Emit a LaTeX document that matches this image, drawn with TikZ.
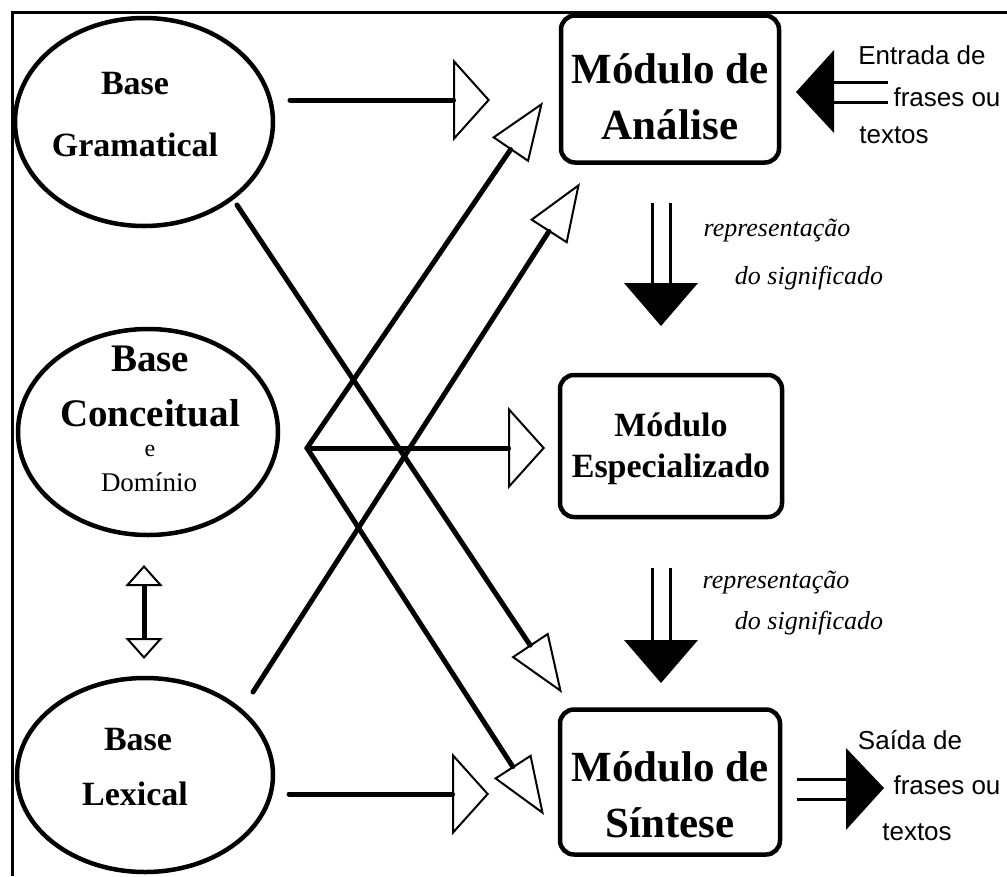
\documentclass[tikz,border=0pt]{standalone}
\usepackage{fontspec}
\setmainfont{Liberation Serif}
\newfontfamily\sansf{Liberation Sans}
\usetikzlibrary{arrows.meta, shapes.geometric}
\tikzset{
  basenode/.style={ellipse, draw, line width=4.5pt, inner sep=0pt},
  basetext/.style={font=\bfseries\fontsize{34}{40}\selectfont},
  modbox/.style={draw, rounded corners=14pt, line width=4.5pt},
  modtext/.style={align=center, font=\bfseries\fontsize{43}{56}\selectfont},
  hline/.style={line width=5pt, line cap=round, -{Triangle[open, length=37pt, width=82pt, line width=2pt]}},
  dline/.style={line width=5pt, line cap=round, -{Triangle[open, length=58pt, width=44pt, line width=2pt]}},
  thinline/.style={line width=3pt},
  iotext/.style={font=\sansf\fontsize{26}{30}\selectfont},
  reptext/.style={font=\itshape\fontsize{26}{30}\selectfont}
}

\begin{document}
\begin{tikzpicture}[x=1pt,y=-1pt]
\useasboundingbox (0,0) rectangle (1007,876);
% frame (top and left only)
\draw[line width=3pt] (1007,12) -- (12,12) -- (12,876);

% the three bases
\node[basenode, minimum width=258, minimum height=208] (gram) at (144,122) {};
\node[basenode, minimum width=260, minimum height=206] (conc) at (148,432) {};
\node[basenode, minimum width=256, minimum height=194] (lexi) at (145,775) {};
\node[basetext] (gramA) at (135,84) {Base};
\node[basetext] (gramB) at (135,145) {Gramatical};
\node[basetext, font=\bfseries\fontsize{39}{45}\selectfont] (concA) at (150,359) {Base};
\node[basetext, font=\bfseries\fontsize{39}{45}\selectfont, inner sep=1pt] (concB) at (150,413) {Conceitual};
\node[font=\fontsize{24}{28}\selectfont, inner sep=0pt] (concC) at (150,451) {e};
\node[font=\fontsize{27}{31}\selectfont, inner sep=1pt] (concD) at (149,482) {Domínio};
\node[basetext] (lexiA) at (138,740) {Base};
\node[basetext] (lexiB) at (135,794) {Lexical};

% the three modules
\node[modbox, minimum width=218, minimum height=147] (anal) at (670,89) {};
\node[modbox, minimum width=222, minimum height=142] (espe) at (671,446) {};
\node[modbox, minimum width=220, minimum height=145] (sint) at (670,782) {};
\node[modtext] (analT) at (670,97) {Módulo de\\Análise};
\node[modtext, font=\bfseries\fontsize{34}{41}\selectfont] (espeT) at (671,449) {Módulo\\Especializado};
\node[modtext] (sintT) at (670,795) {Módulo de\\Síntese};

% connector ends
\coordinate (G0) at (290,100);
\coordinate (G1) at (490,100);
\coordinate (G2) at (237,205);
\coordinate (G3) at (562,693);
\coordinate (H) at (307,448);
\coordinate (H1) at (545,448);
\coordinate (H2) at (543,102);
\coordinate (H3) at (544,815);
\coordinate (L0) at (289,794);
\coordinate (L1) at (489,794);
\coordinate (L2) at (253,692);
\coordinate (L3) at (580,183);
\coordinate (V0) at (144,565);
\coordinate (V1) at (144,659);

\draw[hline] (G0) -- (G1);
\draw[hline] (H) -- (H1);
\draw[hline] (L0) -- (L1);
\draw[dline] (G2) -- (G3);
\draw[dline] (H) -- (H2);
\draw[dline] (H) -- (H3);
\draw[dline] (L2) -- (L3);
\draw[line width=5pt, {Triangle[open, length=21pt, width=37pt, line width=2pt]}-{Triangle[open, length=21pt, width=37pt, line width=2pt]}] (V0) -- (V1);

% input and output
\draw[thinline] (833,82) -- (888,82);
\draw[thinline] (833,102) -- (888,102);
\fill (796,92) -- (834,50) -- (834,133) -- cycle;
\node[iotext] (inA) at (922,55) {Entrada de};
\node[iotext] (inB) at (947,97) {frases ou};
\node[iotext] (inC) at (894,135) {textos};

\draw[thinline] (797,779) -- (847,779);
\draw[thinline] (797,799) -- (847,799);
\fill (884,788) -- (846,748) -- (846,830) -- cycle;
\node[iotext] (outA) at (910,740) {Saída de};
\node[iotext] (outB) at (947,785) {frases ou};
\node[iotext] (outC) at (917,832) {textos};

% meaning representation
\foreach \ya/\yb in {203/283, 568/640} {
  \draw[thinline] (652,\ya) -- (652,\yb);
  \draw[thinline] (670,\ya) -- (670,\yb);
  \fill (624,\yb) -- (698,\yb) -- (661,\yb+43) -- cycle;
}
\node[reptext] (repA) at (777,230) {representação};
\node[reptext] (repB) at (809,278) {do significado};
\node[reptext] (repC) at (776,582) {representação};
\node[reptext] (repD) at (809,623) {do significado};
\end{tikzpicture}
\end{document}
